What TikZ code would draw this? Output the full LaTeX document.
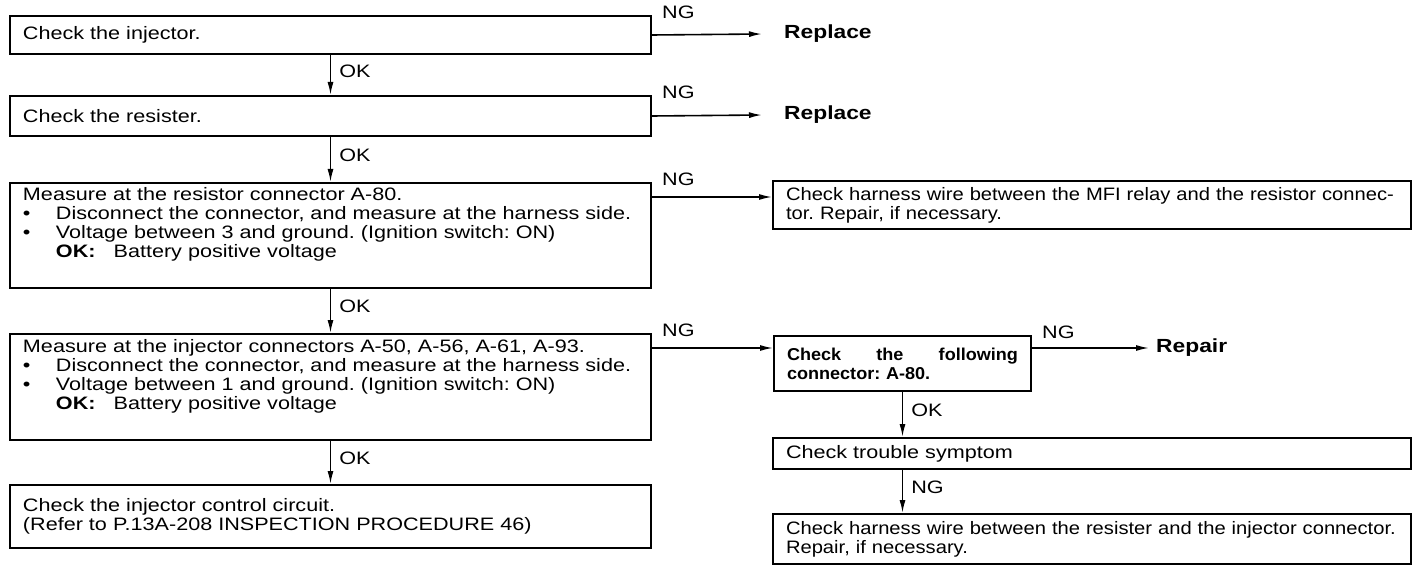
\documentclass[tikz,border=0pt]{standalone}
\usepackage{fontspec}
\setmainfont{Liberation Sans}[FakeStretch=1.2]
\newfontfamily\narrowfont{Liberation Sans}[FakeStretch=1.12]
\newfontfamily\boxbold{Liberation Sans}[FakeStretch=1.05]
\usetikzlibrary{arrows.meta}
\frenchspacing

\begin{document}
\begin{tikzpicture}[x=1pt,y=1pt,
    chkbox/.style={draw,line width=2pt,rectangle,anchor=north west,inner xsep=13pt,inner ysep=5pt,
      text width=#1,align=left,text height=13pt,font=\fontsize{18}{19}\selectfont},
    chkbox/.default=615pt,
    arr/.style={-{Latex[length=13pt,width=6pt]},line width=1.6pt},
    ng/.style={anchor=west,inner sep=0pt,font=\fontsize{18}{19}\selectfont},
    okl/.style={anchor=west,inner sep=0pt,xshift=8pt,font=\fontsize{18}{19}\selectfont},
    endlbl/.style={anchor=west,inner ysep=0pt,inner xsep=#1,font=\fontsize{19}{20}\selectfont\bfseries}]
    \useasboundingbox (0,0) rectangle (1424,-580);

    \node[chkbox,minimum height=38pt] (b1) at (9,-15) {Check the injector.};
    \node[chkbox,minimum height=40pt] (b2) at (9,-95) {Check the resister.};
    \node[chkbox,text depth=82pt] (b3) at (9,-182) {Measure at the resistor connector A-80.\\
      \makebox[33pt][l]{\textbullet}Disconnect the connector, and measure at the harness side.\\
      \makebox[33pt][l]{\textbullet}Voltage between 3 and ground. (Ignition switch: ON)\\
      \hspace*{33pt}\textbf{OK:}\hspace{18pt}Battery positive voltage};
    \node[chkbox,text depth=83pt] (b4) at (9,-333) {Measure at the injector connectors A-50, A-56, A-61, A-93.\\
      \makebox[33pt][l]{\textbullet}Disconnect the connector, and measure at the harness side.\\
      \makebox[33pt][l]{\textbullet}Voltage between 1 and ground. (Ignition switch: ON)\\
      \hspace*{33pt}\textbf{OK:}\hspace{18pt}Battery positive voltage};
    \node[chkbox,minimum height=63pt] (b5) at (9,-484) {Check the injector control circuit.\\
      (Refer to P.13A-208 INSPECTION PROCEDURE 46)};

    \node[chkbox=612pt,minimum height=48pt,font=\narrowfont\fontsize{18}{19}\selectfont] (r1) at (772,-180)
      {Check harness wire between the MFI relay and the resistor connec-\\tor. Repair, if necessary.};
    \node[chkbox=231pt,minimum height=55pt,font=\boxbold\fontsize{17.2}{19}\selectfont\bfseries] (a) at (773,-335)
      {Check\hfill the\hfill following\\connector: A-80.};
    \node[chkbox=612pt,minimum height=31pt] (trouble) at (772,-437) {Check trouble symptom};
    \node[chkbox=612pt,minimum height=50pt,font=\narrowfont\fontsize{18}{19}\selectfont] (last) at (772,-513)
      {Check harness wire between the resister and the injector connector.\\Repair, if necessary.};

    \node[endlbl=22pt] (rep1) at (762,-34) {Replace};
    \node[endlbl=22pt] (rep2) at (762,-115) {Replace};
    \coordinate (ng3) at ([yshift=-15pt]b3.north east);
    \coordinate (ng4) at ([yshift=-15pt]b4.north east);
    \coordinate (nga) at ([yshift=-13pt]a.north east);
    \node[endlbl=7pt] (repair) at ([xshift=117pt]nga) {Repair};

    \node[ng] (ngl1) at ([xshift=10pt,yshift=3pt]b1.north east) {NG};
    \node[ng] (ngl2) at ([xshift=10pt,yshift=3pt]b2.north east) {NG};
    \node[ng] (ngl3) at ([xshift=10pt,yshift=3pt]b3.north east) {NG};
    \node[ng] (ngl4) at ([xshift=10pt,yshift=3pt]b4.north east) {NG};
    \node[ng] (ngla) at ([xshift=10pt,yshift=3pt]a.north east) {NG};

    \draw[arr] (b1.east) -- (rep1.west);
    \draw[arr] (b2.east) -- (rep2.west);
    \draw[arr] (ng3) -- (ng3 -| r1.west);
    \draw[arr] (ng4) -- (ng4 -| a.west);
    \draw[arr] (nga) -- (repair.west);

    \draw[arr] (b1.south) -- node[okl,pos=.4] (ok1) {OK} (b2.north);
    \draw[arr] (b2.south) -- node[okl,pos=.4] (ok2) {OK} (b3.north);
    \draw[arr] (b3.south) -- node[okl,pos=.4] (ok3) {OK} (b4.north);
    \draw[arr] (b4.south) -- node[okl,pos=.4] (ok4) {OK} (b5.north);
    \draw[arr] (a.south) -- node[okl,pos=.4] (ok5) {OK} (a.south |- trouble.north);
    \draw[arr] (trouble.south -| a.south) -- node[okl,pos=.4] (ng6) {NG} (last.north -| a.south);
\end{tikzpicture}
\end{document}
